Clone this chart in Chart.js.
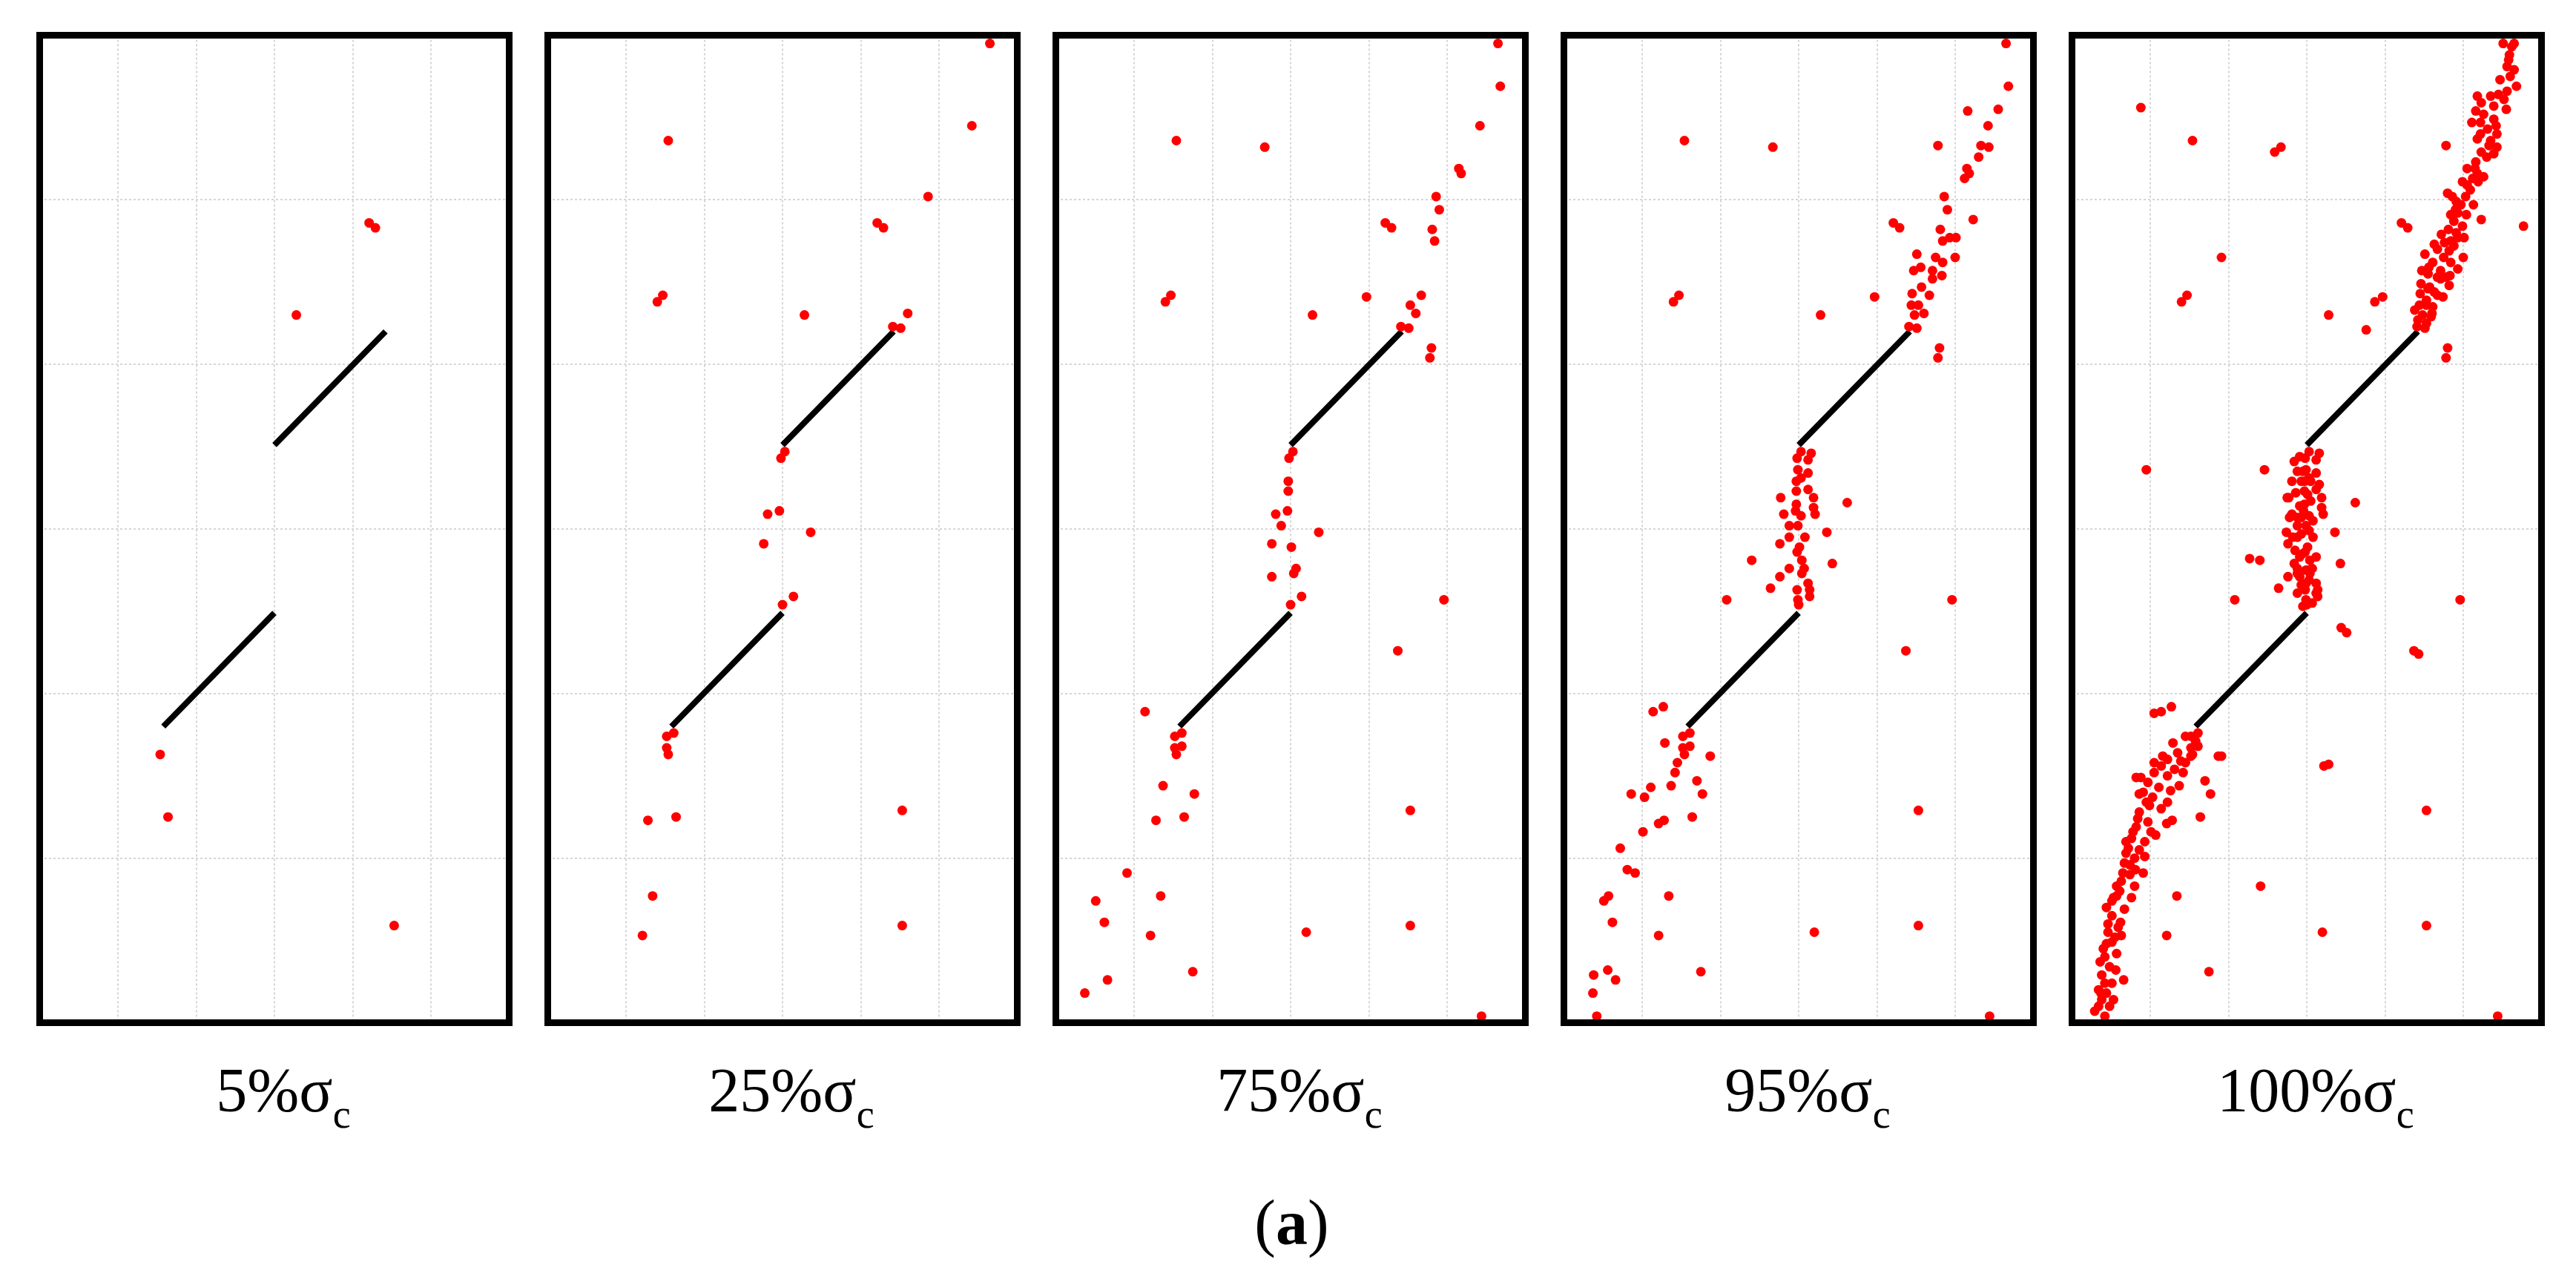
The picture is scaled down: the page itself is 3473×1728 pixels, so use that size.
<!DOCTYPE html>
<html>
<head>
<meta charset="utf-8">
<title>AE events at stress stages</title>
<script src="https://cdn.jsdelivr.net/npm/chart.js@4.4.1/dist/chart.umd.min.js"></script>
<style>
    html, body { margin: 0; padding: 0; background: #fff; }
    body {
        width: 3473px; height: 1728px; position: relative; overflow: hidden;
        font-family: "Liberation Serif", "Times New Roman", serif; color: #000;
    }
    .panel { position: absolute; top: 41px; width: 646px; height: 1344px; }
    .label {
        position: absolute; top: 1428px; width: 646px; text-align: center;
        font-size: 84px; line-height: 1; white-space: nowrap;
    }
    .label .main { position: relative; display: inline-block; }
    .label .sub { position: absolute; left: 100%; top: 47px; font-size: 54px; line-height: 1; }
    .caption {
        position: absolute; left: 5px; top: 1605px; width: 3473px; text-align: center;
        font-size: 86px; line-height: 1;
    }
</style>
</head>
<body>
<div id="figure"></div>
<div class="caption">(<b>a</b>)</div>
<script>
/* AE event maps around two pre-existing flaws, one panel per load stage */

const stageLabels = ["5%", "25%", "75%", "95%", "100%"];

// new events at each stage (panels are cumulative), [x, y] in grid units 0..6
const events05 = [
    [4.21, 4.86], [4.29, 4.83], [3.28, 4.30], [1.54, 1.63], [1.64, 1.25], [4.53, 0.59]
];

const events25 = [
    [5.65, 5.95], [5.42, 5.45], [1.54, 5.36], [4.86, 5.02], [1.47, 4.42], [1.40, 4.38],
    [4.60, 4.31], [4.41, 4.23], [4.51, 4.22], [3.03, 3.47], [2.98, 3.43], [2.81, 3.09],
    [2.96, 3.11], [3.36, 2.98], [2.76, 2.91], [3.14, 2.59], [3.00, 2.54], [1.52, 1.74],
    [1.61, 1.76], [1.52, 1.67], [1.28, 1.23], [4.53, 1.29], [1.34, 0.77], [1.21, 0.53]
];

const events75 = [
    [5.68, 5.69], [2.67, 5.32], [5.15, 5.19], [5.18, 5.16], [4.90, 4.94], [4.81, 4.82],
    [4.84, 4.75], [3.97, 4.41], [4.67, 4.42], [4.53, 4.36], [4.80, 4.10], [4.78, 4.04],
    [2.97, 3.29], [2.97, 3.23], [2.88, 3.02], [3.01, 2.89], [3.07, 2.76], [3.04, 2.73],
    [2.76, 2.71], [4.96, 2.57], [4.37, 2.26], [1.14, 1.89], [1.61, 1.68], [1.37, 1.44],
    [1.77, 1.39], [0.91, 0.91], [0.51, 0.74], [0.62, 0.61], [3.20, 0.55], [1.75, 0.31],
    [0.66, 0.26], [0.37, 0.18], [5.44, 0.04]
];

const events95 = [
    [5.16, 5.54], [5.55, 5.55], [4.78, 5.33], [5.33, 5.33], [5.43, 5.32], [5.30, 5.26],
    [5.12, 5.13], [5.23, 4.88], [4.93, 4.77], [5.01, 4.77], [4.51, 4.67], [4.75, 4.65],
    [5.00, 4.65], [4.84, 4.62], [4.56, 4.59], [4.47, 4.57], [4.71, 4.57], [4.83, 4.54],
    [4.71, 4.52], [4.57, 4.47], [4.45, 4.43], [4.44, 4.36], [4.48, 4.30],
    [3.16, 3.46], [3.12, 3.42], [2.99, 3.36], [3.12, 3.34], [3.03, 3.31], [3.12, 3.24],
    [2.77, 3.19], [3.19, 3.19], [3.62, 3.16], [2.97, 3.15], [3.19, 3.13], [3.03, 3.08],
    [3.21, 3.09], [2.99, 3.02], [2.88, 2.95], [3.08, 2.95], [2.98, 2.86], [2.40, 2.81],
    [3.04, 2.81], [3.43, 2.79], [2.88, 2.76], [3.12, 2.67], [2.64, 2.64], [2.98, 2.63],
    [3.14, 2.63], [2.08, 2.57], [2.99, 2.57],
    [1.27, 1.92], [1.29, 1.70], [1.87, 1.62], [1.45, 1.58], [1.42, 1.52], [1.70, 1.47],
    [1.11, 1.43], [0.86, 1.39], [1.03, 1.37], [1.21, 1.21], [1.01, 1.16], [0.72, 1.06],
    [0.81, 0.93], [0.57, 0.77], [0.38, 0.29], [0.56, 0.32], [0.42, 0.04]
];

const events100 = [
    // scattered
    [0.88, 5.56], [2.59, 5.29], [5.77, 4.84], [1.91, 4.65], [3.87, 4.38], [3.76, 4.21],
    [0.95, 3.36], [2.46, 3.36], [2.27, 2.82], [3.44, 2.40], [3.51, 2.37], [4.43, 2.24],
    [3.22, 1.56], [3.28, 1.57], [2.41, 0.83], [1.91, 1.62],
    // upper band
    [5.51, 5.95], [5.62, 5.93], [5.59, 5.88], [5.56, 5.81], [5.65, 5.79], [5.60, 5.75],
    [5.56, 5.66], [5.45, 5.64], [5.18, 5.63], [5.52, 5.61], [5.23, 5.59], [5.39, 5.57],
    [5.26, 5.52], [5.11, 5.47], [5.39, 5.49], [5.31, 5.43], [5.22, 5.40], [5.43, 5.40],
    [5.18, 5.37], [5.35, 5.36], [5.23, 5.29], [5.39, 5.28], [5.16, 5.23], [5.26, 5.14],
    [5.05, 5.09], [5.19, 5.11], [5.09, 5.06], [4.80, 5.04], [5.03, 5.02], [4.97, 4.97],
    [5.13, 4.97], [4.93, 4.92], [5.04, 4.91], [4.88, 4.87], [4.99, 4.84], [4.91, 4.80],
    [4.76, 4.74], [4.88, 4.72], [4.67, 4.70], [4.82, 4.69], [4.61, 4.62], [4.93, 4.58],
    [4.78, 4.53], [4.82, 4.48], [4.55, 4.46], [4.63, 4.44], [4.74, 4.41], [4.53, 4.39],
    [4.61, 4.35], [4.59, 4.29], [4.42, 4.27], [4.53, 4.25],
    [5.22, 5.47], [5.35, 5.63], [5.47, 5.73], [5.58, 5.85], [5.05, 5.19], [4.99, 5.11],
    [4.91, 4.99], [4.84, 4.91], [4.72, 4.79], [4.63, 4.73], [4.55, 4.55], [4.46, 4.49],
    [4.38, 4.33], [4.67, 4.53],
    // middle band
    [2.91, 3.44], [2.84, 3.41], [2.88, 3.35], [2.81, 3.29], [2.93, 3.29], [3.05, 3.29],
    [3.16, 3.27], [2.86, 3.22], [2.75, 3.19], [3.05, 3.17], [2.91, 3.14], [2.93, 3.07],
    [3.08, 3.05], [2.74, 2.98], [2.93, 2.97], [2.85, 2.87], [2.91, 2.83], [2.84, 2.79],
    [2.99, 2.75], [2.91, 2.71], [3.03, 2.69], [2.93, 2.66], [2.88, 2.61], [3.07, 2.55],
    [2.95, 2.53], [3.12, 2.83], [2.78, 3.07],
    [2.95, 3.35], [3.01, 3.21], [2.88, 3.07], [2.82, 2.95], [3.03, 2.99], [2.95, 2.85],
    [3.03, 2.75], [2.88, 2.73], [3.12, 2.61], [2.99, 2.67],
    // lower band
    [1.05, 1.88], [1.35, 1.64], [1.22, 1.60], [1.39, 1.59], [1.14, 1.56], [1.31, 1.54],
    [1.05, 1.52], [1.22, 1.50], [0.88, 1.49], [1.26, 1.41], [0.95, 1.34], [1.22, 1.34],
    [0.86, 1.28], [1.14, 1.30], [0.97, 1.22], [0.82, 1.19], [1.07, 1.14], [0.76, 1.12],
    [0.93, 1.10], [0.86, 1.05], [0.69, 1.03], [0.80, 1.00], [0.93, 1.01], [0.67, 0.97],
    [0.74, 0.90], [0.63, 0.86], [0.80, 0.83], [0.61, 0.80], [0.76, 0.76], [0.44, 0.70],
    [0.67, 0.69], [0.51, 0.65], [0.59, 0.58], [0.46, 0.55], [0.63, 0.53], [0.51, 0.49],
    [0.40, 0.45], [0.57, 0.42], [0.36, 0.37], [0.48, 0.34], [0.51, 0.24], [0.34, 0.20],
    [0.38, 0.14], [0.34, 0.10], [0.48, 0.10], [0.29, 0.07], [1.45, 1.74], [1.58, 1.71],
    [0.82, 1.49], [0.91, 1.40], [0.99, 1.32], [0.84, 1.24], [0.78, 1.16], [0.69, 1.10],
    [0.74, 0.96], [0.65, 0.91], [0.57, 0.83], [0.53, 0.76], [0.46, 0.60], [0.55, 0.52],
    [0.44, 0.48], [0.42, 0.40], [0.42, 0.24], [0.44, 0.18], [0.53, 0.14], [1.05, 1.58],
    [0.97, 1.46], [1.16, 1.62], [1.52, 1.62]
];

const stageEvents = [events05, events25, events75, events95, events100];

// the two pre-cut flaws, same in every panel
const flawLower = [[1.58, 1.80], [3.00, 2.49]];
const flawUpper = [[3.00, 3.51], [4.42, 4.20]];

const AXIS_MAX = 6;
const PANEL_LEFT = 47;
const PANEL_PITCH = 685;

const toXY = pairs => pairs.map(([x, y]) => ({ x: x, y: y }));

// thick black box round the plot area
const framePlugin = {
    id: "frame",
    afterDraw(chart) {
        const { ctx, chartArea: a } = chart;
        ctx.save();
        ctx.strokeStyle = "#000";
        ctx.lineWidth = 9;
        ctx.strokeRect(a.left, a.top, a.right - a.left, a.bottom - a.top);
        ctx.restore();
    }
};

const axisOpts = {
    type: "linear",
    min: 0,
    max: AXIS_MAX,
    ticks: { display: false, stepSize: 1 },
    grid: { color: "#d6d6d6", lineWidth: 2, drawTicks: false },
    border: { display: false, dash: [3, 3] }
};

function flawDataset(pairs) {
    return {
        data: toXY(pairs),
        showLine: true,
        borderColor: "#000",
        borderWidth: 8,
        pointRadius: 0,
        clip: false
    };
}

function buildPanel(i) {
    const fig = document.getElementById("figure");
    const left = PANEL_LEFT + PANEL_PITCH * i;

    const wrap = document.createElement("div");
    wrap.className = "panel";
    wrap.style.left = left + "px";
    const canvas = document.createElement("canvas");
    canvas.width = 646;
    canvas.height = 1344;
    wrap.appendChild(canvas);
    fig.appendChild(wrap);

    const label = document.createElement("div");
    label.className = "label";
    label.style.left = left + "px";
    label.innerHTML = `<span class="main">${stageLabels[i]}σ<span class="sub">c</span></span>`;
    fig.appendChild(label);

    const events = stageEvents.slice(0, i + 1).flat();

    new Chart(canvas, {
        type: "scatter",
        data: {
            datasets: [
                {
                    data: toXY(events),
                    backgroundColor: "#ff0000",
                    borderWidth: 0,
                    pointRadius: 6.5,
                    clip: false
                },
                flawDataset(flawLower),
                flawDataset(flawUpper)
            ]
        },
        options: {
            responsive: false,
            animation: false,
            devicePixelRatio: 1,
            events: [],
            layout: { padding: 5 },
            plugins: { legend: { display: false }, tooltip: { enabled: false } },
            scales: { x: { ...axisOpts }, y: { ...axisOpts } }
        },
        plugins: [framePlugin]
    });
}

stageLabels.forEach((_, i) => buildPanel(i));
</script>
</body>
</html>
